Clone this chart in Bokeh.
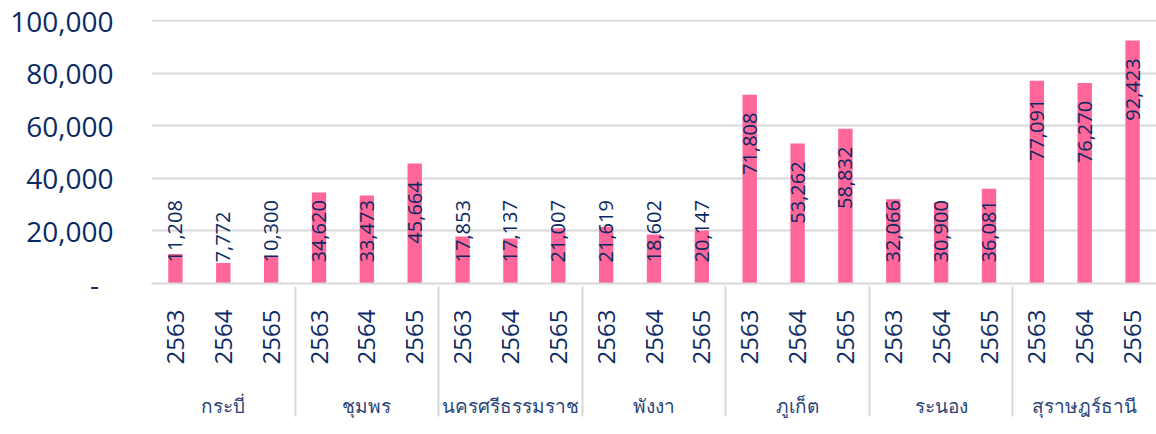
from math import pi
from bokeh.plotting import figure
from bokeh.models import FactorRange, ColumnDataSource, FixedTicker
from bokeh.embed import file_html
from bokeh.resources import INLINE
from bokeh.core.properties import value

provinces = ["กระบี่", "ชุมพร", "นครศรีธรรมราช", "พังงา", "ภูเก็ต", "ระนอง", "สุราษฎร์ธานี"]
years = ["2563", "2564", "2565"]
v2563 = [11208, 34620, 17853, 21619, 71808, 32066, 77091]
v2564 = [7772, 33473, 17137, 18602, 53262, 30900, 76270]
v2565 = [10300, 45664, 21007, 20147, 58832, 36081, 92423]
y_ticks = [0, 20000, 40000, 60000, 80000, 100000]
y_tick_labels = ["-\u00a0\u00a0", "20,000", "40,000", "60,000", "80,000", "100,000"]

NAVY = "#0B2A63"
PINK = "#FF6699"
GRID = "#D9D9D9"
FONT = "Open Sans"

series = [v2563, v2564, v2565]
factors, vals = [], []
for i, prov in enumerate(provinces):
    for j, yr in enumerate(years):
        factors.append((prov, yr))
        vals.append(series[j][i])

labels = [f"{v:,}" for v in vals]
# label placement: inside end, but never lower than a floor above the axis
TOP_GAP = 6800
FLOOR = 8000
LABEL_LEN = 24000
top_idx = [k for k, v in enumerate(vals) if v - TOP_GAP - LABEL_LEN >= FLOOR]
bot_idx = [k for k, v in enumerate(vals) if v - TOP_GAP - LABEL_LEN < FLOOR]

src = ColumnDataSource(dict(x=factors, v=vals))
src_top = ColumnDataSource(dict(x=[factors[k] for k in top_idx],
                                y=[vals[k] - TOP_GAP for k in top_idx],
                                t=[labels[k] for k in top_idx]))
src_bot = ColumnDataSource(dict(x=[factors[k] for k in bot_idx],
                                y=[FLOOR for k in bot_idx],
                                t=[labels[k] for k in bot_idx]))

xr = FactorRange(*factors, factor_padding=0, group_padding=0, subgroup_padding=0, range_padding=0)
p = figure(x_range=xr, y_range=(0, 100400), width=1156, height=434,
           output_backend="svg", toolbar_location=None,
           min_border_left=151, min_border_right=0, min_border_top=19, min_border_bottom=151)

p.vbar(x="x", top="v", width=0.3, source=src, fill_color=PINK, line_color=None)

common = dict(angle=pi / 2, text_baseline="middle", text_color=NAVY,
              text_font=value(FONT), text_font_size="20px")
p.text(x="x", y="y", text="t", source=src_top, text_align="right", **common)
p.text(x="x", y="y", text="t", source=src_bot, text_align="left", **common)

p.outline_line_color = None
p.xgrid.grid_line_color = None
p.ygrid.grid_line_color = GRID
p.ygrid.grid_line_width = 2

ya = p.yaxis[0]
ya.ticker = FixedTicker(ticks=y_ticks)
ya.major_label_overrides = {t: l for t, l in zip(y_ticks, y_tick_labels)}
ya.axis_line_color = None
ya.major_tick_line_color = None
ya.minor_tick_line_color = None
ya.major_tick_out = 0
ya.major_label_standoff = 38
ya.major_label_text_font = FONT
ya.major_label_text_font_size = "28px"
ya.major_label_text_color = NAVY

xa = p.xaxis[0]
xa.axis_line_color = GRID
xa.axis_line_width = 2
xa.major_tick_line_color = None
xa.minor_tick_line_color = None
xa.major_tick_out = 0
xa.major_tick_in = 0
xa.major_label_orientation = pi / 2
xa.major_label_standoff = 26
xa.major_label_text_font = FONT
xa.major_label_text_font_size = "24px"
xa.major_label_text_color = NAVY
xa.group_text_font = FONT
xa.group_text_font_size = "19px"
xa.group_text_color = "#2A4478"
xa.group_text_font_style = "normal"
xa.separator_line_color = GRID
xa.separator_line_width = 2

open("out.html", "w").write(file_html(p, INLINE))
